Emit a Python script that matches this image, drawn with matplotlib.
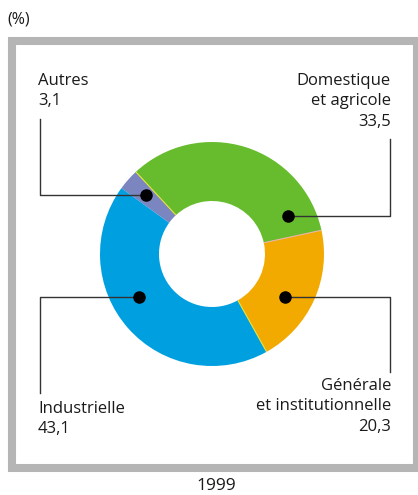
import numpy as np
import matplotlib
matplotlib.use("Agg")
import matplotlib.pyplot as plt
from matplotlib.patches import Rectangle

# ---------------------------------- DATA ---------------------------------- #

categories = ["Autres", "Domestique\net agricole", "Générale\net institutionnelle", "Industrielle"]
values = [3.1, 33.5, 20.3, 43.1]
value_labels = ["3,1", "33,5", "20,3", "43,1"]
colors = ["#7B86C0", "#66BC2C", "#F2A900", "#009FE0"]
year = "1999"

# --------------------------------- LAYOUT --------------------------------- #

W, H = 418, 495
plt.rcParams["font.family"] = ["Open Sans", "DejaVu Sans"]


def fy(y):
    """Convert a pixel row (top = 0) into axes y."""
    return H - y


fig = plt.figure(figsize=(W / 100, H / 100), dpi=100)
ax = fig.add_axes([0, 0, 1, 1])

cx, cy = 212, fy(254)
r_out, r_in = 112, 53

wedges, _ = ax.pie(
    values,
    colors=colors,
    startangle=144,
    counterclock=False,
    center=(cx, cy),
    radius=r_out,
    wedgeprops=dict(width=r_out - r_in, linewidth=0),
)

# thin separators between wedges
edge_colors = ["#E8E23A", "#E9B3A8", "#E8E23A", "#7B86C0"]
angles = 144 - np.cumsum(values) / 100 * 360
for a, ec in zip(angles[:3], edge_colors):
    t = np.deg2rad(a)
    ax.plot([cx + r_in * np.cos(t), cx + r_out * np.cos(t)],
            [cy + r_in * np.sin(t), cy + r_out * np.sin(t)],
            color=ec, lw=0.8, solid_capstyle="butt")

ax.set_xlim(0, W)
ax.set_ylim(0, H)
ax.set_aspect("auto")
ax.axis("off")

# grey frame
ax.add_patch(Rectangle((12, fy(468)), 405, 427, fill=False,
                       edgecolor="#B5B5B5", linewidth=5.8))

# leader lines: dot, elbow, end
leaders = [
    ((146, 195), (40, 195), (40, 119)),
    ((288, 216), (390, 216), (390, 139)),
    ((285, 297), (390, 297), (390, 372)),
    ((139, 297), (40, 297), (40, 393)),
]
for dot, elbow, end in leaders:
    ax.plot([dot[0], elbow[0], end[0]], [fy(dot[1]), fy(elbow[1]), fy(end[1])],
            color="#333333", lw=1.0)
    ax.plot(dot[0], fy(dot[1]), "o", color="black", ms=8)

fs = 12
label_pos = [(38, 73, "left"), (391, 73, "right"), (391, 378, "right"), (38, 401, "left")]
for (x, y, ha), cat, val in zip(label_pos, categories, value_labels):
    ax.text(x, fy(y), f"{cat}\n{val}", ha=ha, va="top", fontsize=fs,
            linespacing=1.36, color="#1a1a1a")

ax.text(7, fy(12), "(%)", ha="left", va="top", fontsize=11.5, color="#1a1a1a")
ax.text(216, fy(490), year, ha="center", va="baseline", fontsize=12.5, color="#1a1a1a")

fig.savefig("out.png", dpi=100)
